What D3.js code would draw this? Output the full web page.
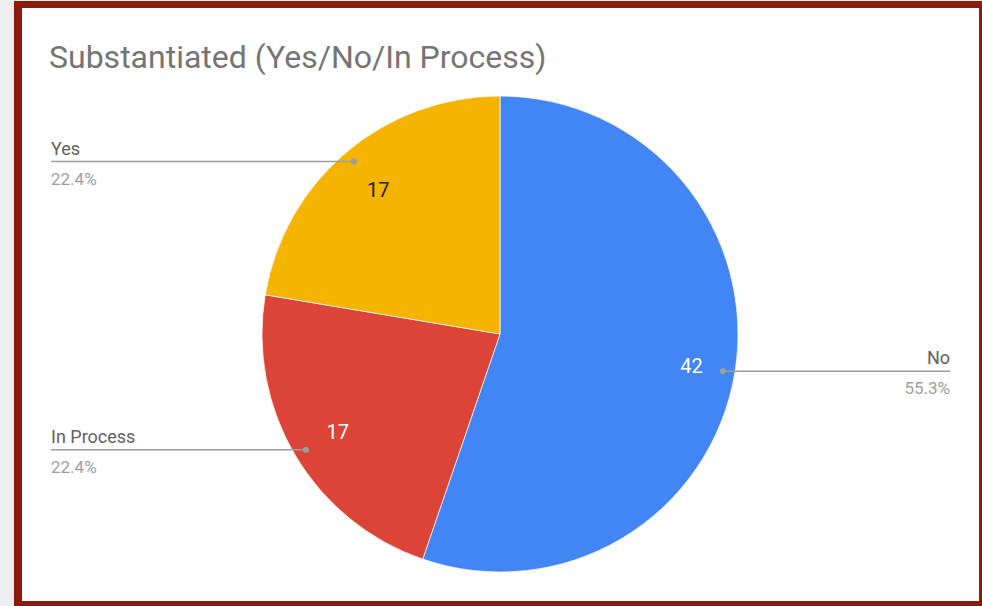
<!DOCTYPE html>
<html>
<head>
<meta charset="utf-8">
<script src="https://cdn.jsdelivr.net/npm/d3@7"></script>
<style>
  body { margin: 0; background: #eeeeee; }
  svg { display: block; font-family: Roboto, sans-serif; }
</style>
</head>
<body>
<div class="chart"></div>
<script>
// data
var categories = ["No", "In Process", "Yes"];
var counts = [42, 17, 17];
var colors = ["#4285f4", "#db4437", "#f4b400"];
var labelColors = ["#ffffff", "#ffffff", "#222222"];

var width = 982, height = 606;
var cx = 500, cy = 334, radius = 238;

var svg = d3.select(".chart").append("svg")
    .attr("width", width)
    .attr("height", height);

// frame
svg.append("rect")
    .attr("x", 14).attr("y", 1)
    .attr("width", width - 14).attr("height", height - 1)
    .attr("fill", "#8b1c0b");
svg.append("rect")
    .attr("x", 22).attr("y", 8)
    .attr("width", 957).attr("height", 593)
    .attr("fill", "#ffffff");

// title
svg.append("text")
    .attr("x", 49).attr("y", 68)
    .attr("font-size", 32)
    .attr("fill", "#757575")
    .text("Substantiated (Yes/No/In Process)");

var total = d3.sum(counts);
var data = categories.map(function(c, i) {
    return { name: c, value: counts[i], color: colors[i], labelColor: labelColors[i] };
});

var pie = d3.pie().sort(null).value(function(d) { return d.value; });
var arcs = pie(data);

var arc = d3.arc().innerRadius(0).outerRadius(radius);
var labelArc = d3.arc().innerRadius(190).outerRadius(190);
var dotArc = d3.arc().innerRadius(226).outerRadius(226);

var g = svg.append("g")
    .attr("transform", "translate(" + cx + "," + cy + ")");

g.selectAll("path.slice")
    .data(arcs)
    .enter().append("path")
    .attr("class", "slice")
    .attr("d", arc)
    .attr("fill", function(d) { return d.data.color; })
    .attr("stroke", "#ffffff")
    .attr("stroke-width", 0.7);

// value labels inside slices
g.selectAll("text.value")
    .data(arcs)
    .enter().append("text")
    .attr("class", "value")
    .attr("transform", function(d) {
        var c = labelArc.centroid(d);
        return "translate(" + (c[0] + (c[0] > 0 ? 4 : 1)) + "," + (c[1] + 1) + ")";
    })
    .attr("text-anchor", "middle")
    .attr("dy", "0.35em")
    .attr("font-size", 20)
    .attr("fill", function(d) { return d.data.labelColor; })
    .text(function(d) { return d.data.value; });

// leader lines with labels
var pct = d3.format(".1%");
var leftX = 51, rightX = 950;

arcs.forEach(function(d) {
    var p = dotArc.centroid(d);
    var px = cx + p[0], py = cy + p[1];
    var onRight = p[0] > 0;
    var endX = onRight ? rightX : leftX;
    var anchor = onRight ? "end" : "start";

    svg.append("line")
        .attr("x1", px).attr("y1", py)
        .attr("x2", endX).attr("y2", py)
        .attr("stroke", "#9e9e9e")
        .attr("stroke-width", 1.5);
    svg.append("circle")
        .attr("cx", px).attr("cy", py)
        .attr("r", 3)
        .attr("fill", "#9e9e9e");
    svg.append("text")
        .attr("x", endX).attr("y", py - 7)
        .attr("text-anchor", anchor)
        .attr("font-size", 18)
        .attr("fill", "#616161")
        .text(d.data.name);
    svg.append("text")
        .attr("x", endX).attr("y", py + 23)
        .attr("text-anchor", anchor)
        .attr("font-size", 17)
        .attr("fill", "#9e9e9e")
        .text(pct(d.data.value / total));
});
</script>
</body>
</html>
